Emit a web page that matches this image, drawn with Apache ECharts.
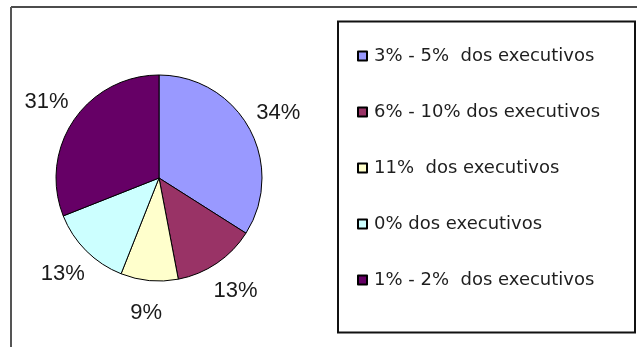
<!DOCTYPE html>
<html>
<head>
<meta charset="utf-8">
<script src="https://cdn.jsdelivr.net/npm/echarts@6/dist/echarts.min.js"></script>
<style>
  html, body { margin: 0; padding: 0; background: #fff; }
  #chart { width: 637px; height: 347px; }
</style>
</head>
<body>
<div id="chart"></div>
<script>
// Share of respondents by fraction of executives
const categories = [
  '3% - 5%  dos executivos',
  '6% - 10% dos executivos',
  '11%  dos executivos',
  '0% dos executivos',
  '1% - 2%  dos executivos'
];
const shares = [34, 13, 9, 13, 31];
const sliceColors = ['#9999FF', '#993366', '#FFFFCC', '#CCFFFF', '#660066'];

const chart = echarts.init(document.getElementById('chart'), null, { renderer: 'canvas' });

const center = [159, 178];
const pieData = categories.map((name, i) => ({ name, value: shares[i] }));

chart.setOption({
  backgroundColor: '#ffffff',
  animation: false,
  color: sliceColors,
  legend: {
    orient: 'vertical',
    left: 357,
    top: 47,
    padding: 0,
    itemWidth: 9,
    itemHeight: 9,
    itemGap: 38,
    icon: 'rect',
    data: categories,
    textStyle: {
      fontFamily: 'DejaVu Sans',
      fontSize: 18,
      lineHeight: 18,
      color: '#1e1e1e',
      padding: [0, 0, 0, 2]
    }
  },
  graphic: [
    // outer frame (top and left edges)
    { type: 'line', shape: { x1: 11, y1: 7, x2: 637, y2: 7 }, style: { stroke: '#111', lineWidth: 1.5 } },
    { type: 'line', shape: { x1: 11, y1: 7, x2: 11, y2: 347 }, style: { stroke: '#555', lineWidth: 2 } },
    // legend box
    { type: 'rect', shape: { x: 338, y: 21.5, width: 297, height: 311 }, style: { fill: 'none', stroke: '#111', lineWidth: 2 }, z: 10 }
  ],
  series: [
    {
      type: 'pie',
      center: center,
      radius: [0, 103],
      startAngle: 90,
      clockwise: true,
      data: pieData,
      label: { show: false },
      labelLine: { show: false },
      itemStyle: { borderColor: '#000', borderWidth: 1 },
      emphasis: { disabled: true }
    },
    {
      // ring used only to place the percentage labels around the pie
      type: 'pie',
      center: center,
      radius: [103, 163],
      startAngle: 90,
      clockwise: true,
      silent: true,
      data: pieData,
      itemStyle: { color: 'rgba(0,0,0,0)', borderWidth: 0 },
      label: {
        show: true,
        position: 'inside',
        formatter: p => p.value + '%',
        fontFamily: 'Liberation Sans',
        fontSize: 22,
        color: '#1a1a1a'
      },
      labelLine: { show: false },
      emphasis: { disabled: true }
    }
  ]
});
</script>
</body>
</html>
